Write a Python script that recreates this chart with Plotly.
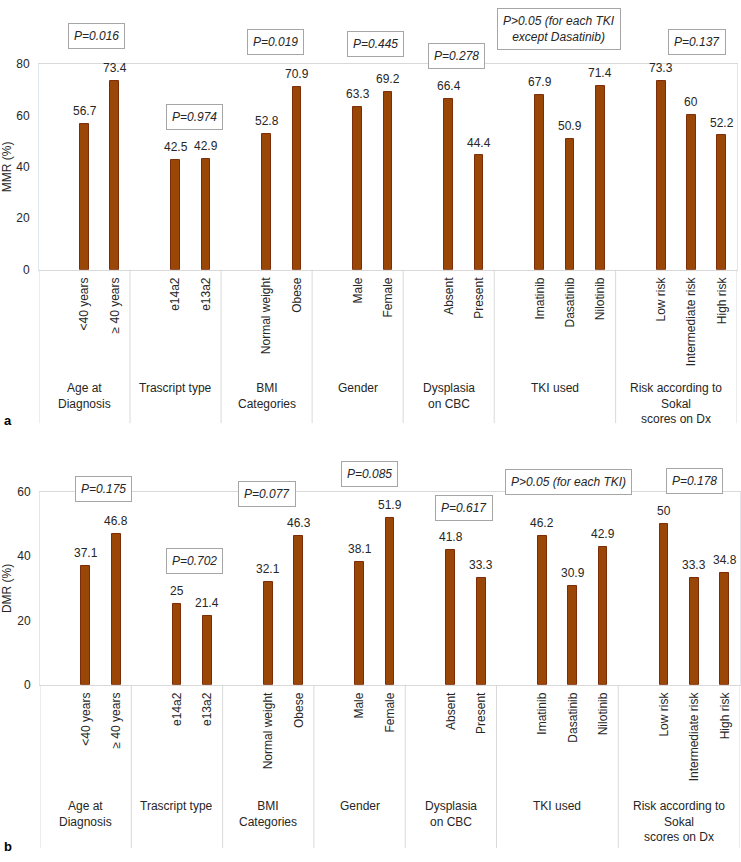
import plotly.graph_objects as go

# ---------------- data ----------------
categories = ["<40 years", "≥ 40 years", "e14a2", "e13a2", "Normal weight", "Obese",
              "Male", "Female", "Absent", "Present", "Imatinib", "Dasatinib", "Nilotinib",
              "Low risk", "Intermediate risk", "High risk"]
groups = ["Age at<br>Diagnosis", "Trascript type", "BMI<br>Categories", "Gender",
          "Dysplasia<br>on CBC", "TKI used", "Risk according to<br>Sokal<br>scores on Dx"]
group_sizes = [2, 2, 2, 2, 2, 3, 3]
mmr_values = [56.7, 73.4, 42.5, 42.9, 52.8, 70.9, 63.3, 69.2, 66.4, 44.4, 67.9, 50.9, 71.4, 73.3, 60, 52.2]
dmr_values = [37.1, 46.8, 25, 21.4, 32.1, 46.3, 38.1, 51.9, 41.8, 33.3, 46.2, 30.9, 42.9, 50, 33.3, 34.8]
mmr_pvalues = ["P=0.016", "P=0.974", "P=0.019", "P=0.445", "P=0.278",
               "P>0.05 (for each TKI<br>except Dasatinib)", "P=0.137"]
dmr_pvalues = ["P=0.175", "P=0.702", "P=0.077", "P=0.085", "P=0.617",
               "P>0.05 (for each TKI)", "P=0.178"]
mmr_ticks = [0, 20, 40, 60, 80]
dmr_ticks = [0, 20, 40, 60]

# ---------------- layout helpers ----------------
W, H = 741, 862
FONT = "Arial, Liberation Sans, sans-serif"
BAR_FILL = "#9a4607"
BAR_LINE = "#7c2c06"
GRID = "#d9d9d9"

# slot positions: each group has one empty leading slot
positions, boundaries, centers = [], [-0.5], []
s = 0
for n in group_sizes:
    start = s
    positions += [s + 1 + i for i in range(n)]
    s += n + 1
    boundaries.append(s - 0.5)
    centers.append((start + s - 1) / 2)
n_slots = s


def py(px):
    return 1 - px / H


panels = [
    dict(vals=mmr_values, ticks=mmr_ticks, title="MMR (%)", pvals=mmr_pvalues, letter="a",
         xdom=(39, 737), ytop=58, ybot=267, linebot=423, glabel=378, lettery=420,
         pbox_x=[1.38, 4.61, 7.28, 10.6, 13.27, 16.63, 21.18],
         pbox_y=[29, 112, 36, 38, 50, 22, 36]),
    dict(vals=dmr_values, ticks=dmr_ticks, title="DMR (%)", pvals=dmr_pvalues, letter="b",
         xdom=(40, 740), ytop=493, ybot=689, linebot=855, glabel=803, lettery=853,
         pbox_x=[1.57, 4.56, 6.96, 10.34, 13.43, 16.88, 20.99],
         pbox_y=[490, 563, 495, 475, 509, 483, 482]),
]

fig = go.Figure()
shapes, annotations = [], []

for k, p in enumerate(panels):
    xa = "x" if k == 0 else "x2"
    ya = "y" if k == 0 else "y2"
    xkey = "xaxis" if k == 0 else "xaxis2"
    ykey = "yaxis" if k == 0 else "yaxis2"

    fig.add_trace(go.Bar(
        x=positions, y=p["vals"], xaxis=xa, yaxis=ya, width=0.29,
        marker=dict(color=BAR_FILL, line=dict(color=BAR_LINE, width=1)),
        showlegend=False, hoverinfo="y"))

    fig.update_layout(**{
        xkey: dict(domain=[p["xdom"][0] / W, p["xdom"][1] / W], range=[-0.5, n_slots - 0.5],
                   tickmode="array", tickvals=positions, ticktext=categories,
                   tickangle=-90, showgrid=False, zeroline=False,
                   showline=True, linecolor=GRID, linewidth=1, mirror=True,
                   ticks="", ticklabelstandoff=2,
                   tickfont=dict(family=FONT, size=12, color="#262626"),
                   anchor=ya, fixedrange=True),
        ykey: dict(domain=[py(p["ybot"]), py(p["ytop"])],
                   range=[0, p["ticks"][-1]], tickvals=p["ticks"],
                   showgrid=False, zeroline=False,
                   showline=True, linecolor="#dfe6ee", linewidth=1, mirror=True,
                   ticks="", ticklabelstandoff=6,
                   tickfont=dict(family=FONT, size=12, color="#262626"),
                   title=dict(text=p["title"], font=dict(family=FONT, size=12, color="#262626"),
                              standoff=8),
                   anchor=xa, fixedrange=True),
    })

    # group separators extending below the axis
    for b in boundaries:
        shapes.append(dict(type="line", xref=xa, yref="paper", x0=b, x1=b,
                           y0=py(p["ybot"]), y1=py(p["linebot"]),
                           line=dict(color=GRID, width=1)))
    # group labels
    for c, g in zip(centers, groups):
        annotations.append(dict(xref=xa, yref="paper", x=c, y=py(p["glabel"]), text=g,
                                showarrow=False, xanchor="center", yanchor="top",
                                align="center",
                                font=dict(family=FONT, size=12, color="#262626")))
    # value labels
    for xpos, v in zip(positions, p["vals"]):
        annotations.append(dict(xref=xa, yref=ya, x=xpos, y=v, text=f"{v:g}",
                                showarrow=False, xanchor="center", yanchor="bottom",
                                yshift=4, font=dict(family=FONT, size=12, color="#262626")))
    # p-value boxes
    for xp, ypx, t in zip(p["pbox_x"], p["pbox_y"], p["pvals"]):
        annotations.append(dict(xref=xa, yref="paper", x=xp, y=py(ypx), text=f"<i>{t}</i>",
                                showarrow=False, xanchor="center", yanchor="middle",
                                align="center", bordercolor="#a6a6a6", borderwidth=1,
                                borderpad=5, bgcolor="white",
                                font=dict(family=FONT, size=12, color="#262626")))
    # panel letter
    annotations.append(dict(xref="paper", yref="paper", x=2 / W, y=py(p["lettery"]),
                            text=f"<b>{p['letter']}</b>", showarrow=False,
                            xanchor="left", yanchor="middle",
                            font=dict(family=FONT, size=13, color="black")))

fig.update_layout(width=W, height=H, margin=dict(l=0, r=0, t=0, b=0),
                  paper_bgcolor="white", plot_bgcolor="white",
                  shapes=shapes, annotations=annotations, bargap=0,
                  font=dict(family=FONT, size=12, color="#262626"))

fig.write_html("out.html", config={"displayModeBar": False},
               post_script="document.body.style.margin='0';document.body.style.overflow='hidden';")
